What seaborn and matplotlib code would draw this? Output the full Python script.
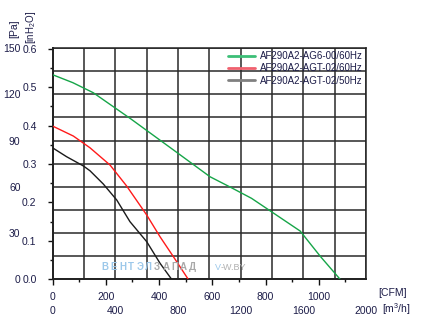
import numpy as np
import pandas as pd
import matplotlib
matplotlib.use("Agg")
import matplotlib.pyplot as plt
from matplotlib.lines import Line2D
from matplotlib.ticker import MultipleLocator, FuncFormatter
import seaborn as sns

# ---------------- data (flow in m3/h, pressure in Pa) ----------------
series_names = ["AF290A2-AG6-00/60Hz", "AF290A2-AGT-02/60Hz", "AF290A2-AGT-02/50Hz"]
green_flow = [0, 130, 260, 500, 770, 1005, 1130, 1270, 1390, 1580, 1710, 1835]
green_pa = [132.7, 127.5, 121, 104, 84, 66.5, 60, 52.5, 44.3, 31.3, 14.7, 0]
red_flow = [0, 133, 239, 367, 473, 601, 686, 771, 866]
red_pa = [99.4, 92.9, 85.3, 74.1, 60.5, 41.7, 27.6, 14.7, 0]
black_flow = [0, 90, 197, 239, 324, 410, 494, 601, 686, 760]
black_pa = [85.3, 79.5, 73.5, 70.4, 61.8, 51.4, 37.4, 24.4, 10.4, 0]

pa_ticks = [0, 30, 60, 90, 120, 150]
inh2o_ticks = [0.0, 0.1, 0.2, 0.3, 0.4, 0.5, 0.6]
m3h_ticks = [0, 400, 800, 1200, 1600, 2000]
cfm_ticks = [0, 200, 400, 600, 800, 1000]

line_colors = ["#16a548", "#ff1a1a", "#1a1a1a"]
legend_colors = ["#3cbf77", "#f0606e", "#808080"]

CFM = 1.699011   # m3/h per CFM
INH2O = 249.089  # Pa per inH2O

frames = []
for name, fl, pr in zip(series_names, [green_flow, red_flow, black_flow],
                        [green_pa, red_pa, black_pa]):
    frames.append(pd.DataFrame({"flow": fl, "pa": pr, "fan": name}))
df = pd.concat(frames, ignore_index=True)

sns.set_theme(style="white")
plt.rcParams["font.family"] = ["Liberation Sans", "DejaVu Sans"]
plt.rcParams["mathtext.default"] = "regular"
txt_color = "#1c1c48"

fig = plt.figure(figsize=(4.21, 3.29), dpi=100)
W, H = 421, 329
L, R, B, T = 52.5, 366, 279.3, 48
ax = fig.add_axes([L / W, 1 - B / H, (R - L) / W, (B - T) / H])

sns.lineplot(data=df, x="flow", y="pa", hue="fan", palette=line_colors,
             sort=False, estimator=None, legend=False, lw=1.0, ax=ax, zorder=3)

ax.set_xlim(0, 2000)
ax.set_ylim(0, 150)
ax.set_xlabel("")
ax.set_ylabel("")

# grid in primary units
ax.xaxis.set_major_locator(MultipleLocator(200))
ax.yaxis.set_major_locator(MultipleLocator(15))
ax.xaxis.set_major_formatter(FuncFormatter(lambda v, p: f"{v:.0f}" if round(v) in m3h_ticks else ""))
ax.yaxis.set_major_formatter(FuncFormatter(lambda v, p: f"{v:.0f}" if round(v) in pa_ticks else ""))
ax.grid(True, color="#2a2a2a", lw=1.1)
ax.tick_params(axis="both", length=0, labelsize=7.5, colors=txt_color)
ax.tick_params(axis="x", pad=19)
ax.tick_params(axis="y", pad=23)
for s in ax.spines.values():
    s.set_color("#222222")
    s.set_linewidth(1.1)

# secondary axes with the English units
secx = ax.secondary_xaxis("bottom", functions=(lambda x: x / CFM, lambda c: c * CFM))
secx.set_xticks(cfm_ticks)
secx.xaxis.set_minor_locator(MultipleLocator(100))
secx.tick_params(axis="x", which="major", direction="out", length=4.5, width=1,
                 color="#111111", labelsize=7.5, labelcolor=txt_color, pad=5)
secx.tick_params(axis="x", which="minor", direction="out", length=2.5, width=1, color="#111111")
secx.spines["bottom"].set_color("#111111")

secy = ax.secondary_yaxis("left", functions=(lambda p: p / INH2O, lambda i: i * INH2O))
secy.set_yticks(inh2o_ticks)
secy.yaxis.set_major_formatter(FuncFormatter(lambda v, p: f"{v:.1f}"))
secy.yaxis.set_minor_locator(MultipleLocator(0.05))
secy.tick_params(axis="y", which="major", direction="out", length=3.5, width=1,
                 color="#111111", labelsize=7.5, labelcolor=txt_color, pad=8)
secy.tick_params(axis="y", which="minor", direction="out", length=2.5, width=1, color="#111111")
secy.spines["left"].set_color("#111111")

# unit labels
fig.text(14.7 / W, 1 - 29.0 / H, "[Pa]", rotation=90, ha="center", va="center",
         fontsize=7.5, color=txt_color)
fig.text(30.5 / W, 1 - 27.5 / H, "[inH$_2$O]", rotation=90, ha="center", va="center",
         fontsize=7, color=txt_color)
fig.text(393 / W, 1 - 293.3 / H, "[CFM]", ha="center", va="center",
         fontsize=7.5, color=txt_color)
fig.text(396 / W, 1 - 309 / H, "[m$^3$/h]", ha="center", va="center",
         fontsize=7.5, color=txt_color)

# legend
handles = [Line2D([], [], color=c, lw=2) for c in legend_colors]
leg = ax.legend(handles, series_names, loc="upper right", fontsize=7,
                frameon=True, fancybox=False, framealpha=0, edgecolor="#333333",
                borderaxespad=0, borderpad=0.3, labelspacing=0.25,
                handlelength=2.85, handletextpad=0.5)
leg.get_frame().set_linewidth(1.0)
for t in leg.get_texts():
    t.set_color(txt_color)

# watermark
letters = "ВЕНТЭЛЗАПАД"
for i, ch in enumerate(letters):
    fig.text((105 + i * 8.7) / W, 1 - 267.3 / H, ch, ha="center", va="center",
             fontsize=7, fontweight="bold",
             color="#9cc8ea" if i < 6 else "#a8a8a8", zorder=2)
fig.text(215 / W, 1 - 267.3 / H, "V", ha="left", va="center", fontsize=6.5, color="#9cc8ea")
fig.text(221 / W, 1 - 267.3 / H, "-W.BY", ha="left", va="center", fontsize=6.5, color="#b0b0b0")

fig.savefig("out.png", dpi=100)
